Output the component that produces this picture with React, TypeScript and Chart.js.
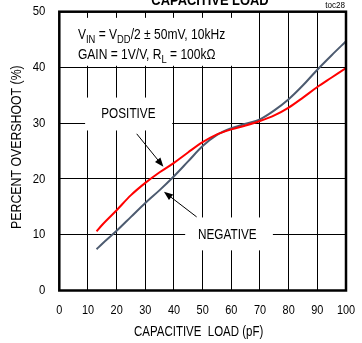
import React, { useEffect, useRef } from "react";
import { Chart, registerables } from "chart.js";

Chart.register(...registerables);

// ---- data ----
const capLoad = [13, 15, 20, 25, 30, 35, 40, 45, 50, 55, 60, 65, 70, 75, 80, 85, 90, 95, 100];
const positiveOvershoot = [10.6, 11.8, 14.4, 17.1, 19.3, 21.2, 22.9, 24.8, 26.6, 28.0, 28.9, 29.6, 30.4, 31.4, 32.8, 34.6, 36.5, 38.2, 39.9];
const negativeOvershoot = [7.4, 8.4, 10.7, 13.2, 15.7, 18.0, 20.5, 23.2, 25.9, 27.9, 29.1, 29.9, 30.7, 32.3, 34.3, 36.8, 39.6, 42.2, 44.7];

const xTickValues = [0, 10, 20, 30, 40, 50, 60, 70, 80, 90, 100];
const xTickLabels = ["0", "10", "20", "30", "40", "50", "60", "70", "80", "90", "100"];
const yTickValues = [0, 10, 20, 30, 40, 50];
const yTickLabels = ["0", "10", "20", "30", "40", "50"];

const chartTitle = "CAPACITIVE LOAD";
const chartCode = "toc28";
const xTitle = "CAPACITIVE  LOAD (pF)";
const yTitle = "PERCENT OVERSHOOT (%)";
const conditionLine1 = [
  { t: "V" }, { t: "IN", sub: true }, { t: " = V" }, { t: "DD", sub: true }, { t: "/2 \u00b1 50mV, 10kHz" },
];
const conditionLine2 = [
  { t: "GAIN = 1V/V, R" }, { t: "L", sub: true }, { t: " = 100k\u03a9" },
];
const positiveLabel = "POSITIVE";
const negativeLabel = "NEGATIVE";

const FONT = "'Liberation Sans', Arial, sans-serif";

// draw horizontally condensed text (emulates a narrow sans face)
function txt(ctx: CanvasRenderingContext2D, s: string, x: number, y: number, size: number, sx: number, align: CanvasTextAlign = "left", weight = "normal") {
  ctx.save();
  ctx.font = `${weight} ${size}px ${FONT}`;
  ctx.textAlign = align;
  ctx.translate(x, y);
  ctx.scale(sx, 1);
  ctx.fillText(s, 0, 0);
  ctx.restore();
}

function drawRich(ctx: CanvasRenderingContext2D, parts: any[], x: number, y: number, size: number, sx: number) {
  ctx.save();
  ctx.translate(x, y);
  ctx.scale(sx, 1);
  let cx = 0;
  for (const p of parts) {
    if (p.sub) {
      ctx.font = `${size * 0.78}px ${FONT}`;
      ctx.fillText(p.t, cx, size * 0.25);
    } else {
      ctx.font = `${size}px ${FONT}`;
      ctx.fillText(p.t, cx, 0);
    }
    cx += ctx.measureText(p.t).width;
  }
  ctx.restore();
}

function arrow(ctx: CanvasRenderingContext2D, x1: number, y1: number, x2: number, y2: number) {
  const ang = Math.atan2(y2 - y1, x2 - x1);
  const L = 9, W = 3.5;
  ctx.beginPath();
  ctx.moveTo(x1, y1);
  ctx.lineTo(x2 - Math.cos(ang) * L * 0.8, y2 - Math.sin(ang) * L * 0.8);
  ctx.lineWidth = 1;
  ctx.strokeStyle = "#000";
  ctx.stroke();
  ctx.beginPath();
  ctx.moveTo(x2, y2);
  ctx.lineTo(x2 - Math.cos(ang) * L - Math.sin(ang) * W, y2 - Math.sin(ang) * L + Math.cos(ang) * W);
  ctx.lineTo(x2 - Math.cos(ang) * L + Math.sin(ang) * W, y2 - Math.sin(ang) * L - Math.cos(ang) * W);
  ctx.closePath();
  ctx.fillStyle = "#000";
  ctx.fill();
}

const annotationPlugin = {
  id: "annot",
  beforeDatasetsDraw(chart: any) {
    const ctx = chart.ctx as CanvasRenderingContext2D;
    const xs = chart.scales.x, ys = chart.scales.y;
    const px = (v: number) => xs.getPixelForValue(v);
    const py = (v: number) => ys.getPixelForValue(v);
    ctx.save();
    ctx.fillStyle = "#fff";
    const boxes = [
      [0, 65, 40.3, 48.9],
      [9, 39.4, 28.7, 34.6],
      [43.9, 74.5, 7.2, 13.1],
    ];
    for (const [x0, x1, y0, y1] of boxes) {
      ctx.fillRect(px(x0), py(y1), px(x1) - px(x0), py(y0) - py(y1));
    }
    ctx.fillStyle = "#000";
    ctx.textBaseline = "alphabetic";
    ctx.textAlign = "left";
    drawRich(ctx, conditionLine1, px(6.5), py(45.1), 14, 0.86);
    drawRich(ctx, conditionLine2, px(6.5), py(41.5), 14, 0.86);
    ctx.textBaseline = "middle";
    txt(ctx, positiveLabel, px(24.1), py(31.6), 14, 0.84, "center");
    txt(ctx, negativeLabel, px(58.6), py(9.9), 14, 0.84, "center");
    ctx.restore();
  },
  afterDatasetsDraw(chart: any) {
    const ctx = chart.ctx as CanvasRenderingContext2D;
    const xs = chart.scales.x, ys = chart.scales.y;
    const px = (v: number) => xs.getPixelForValue(v);
    const py = (v: number) => ys.getPixelForValue(v);
    const a = chart.chartArea;
    ctx.save();
    arrow(ctx, px(27), py(28.1), px(36.3), py(22.2));
    arrow(ctx, px(47.9), py(13.2), px(36.5), py(17.7));
    ctx.lineWidth = 2.5;
    ctx.strokeStyle = "#000";
    ctx.strokeRect(a.left, a.top, a.right - a.left, a.bottom - a.top);
    ctx.fillStyle = "#000";
    // tick labels
    ctx.textBaseline = "middle";
    xTickValues.forEach((v, i) => txt(ctx, xTickLabels[i], px(v), a.bottom + 20, 13, 0.84, "center"));
    yTickValues.forEach((v, i) => txt(ctx, yTickLabels[i], a.left - 14, py(v), 13.5, 0.84, "right"));
    // axis titles
    txt(ctx, xTitle, (a.left + a.right) / 2 - 4, 332, 14, 0.82, "center");
    ctx.save();
    ctx.translate(17.5, (a.top + a.bottom) / 2 - 4);
    ctx.rotate(-Math.PI / 2);
    txt(ctx, yTitle, 0, 0, 14, 0.88, "center");
    ctx.restore();
    // title (cut off at top) and code
    ctx.textBaseline = "alphabetic";
    txt(ctx, chartTitle, 210, 5, 15, 0.86, "center", "bold");
    txt(ctx, chartCode, 345, 7.5, 9, 0.9, "right");
    ctx.restore();
  },
};

export default function App() {
  const ref = useRef<HTMLCanvasElement | null>(null);
  useEffect(() => {
    if (!ref.current) return;
    const chart = new Chart(ref.current, {
      type: "line",
      data: {
        datasets: [
          {
            label: "POSITIVE",
            data: capLoad.map((x, i) => ({ x, y: positiveOvershoot[i] })),
            borderColor: "#ff0000",
            borderWidth: 2,
            pointRadius: 0,
            cubicInterpolationMode: "monotone",
            fill: false,
          },
          {
            label: "NEGATIVE",
            data: capLoad.map((x, i) => ({ x, y: negativeOvershoot[i] })),
            borderColor: "#4d5b70",
            borderWidth: 2,
            pointRadius: 0,
            cubicInterpolationMode: "monotone",
            fill: false,
          },
        ],
      },
      options: {
        responsive: false,
        animation: false,
        events: [],
        layout: { padding: { top: 11.7, right: 16, left: 0, bottom: 0 } },
        plugins: { legend: { display: false }, tooltip: { enabled: false } },
        scales: {
          x: {
            type: "linear",
            min: 0,
            max: 100,
            afterBuildTicks: (s: any) => { s.ticks = xTickValues.map((v) => ({ value: v })); },
            ticks: { display: false },
            grid: { color: "#000", lineWidth: 1, drawTicks: false },
            border: { display: false },
            title: { display: false },
            afterFit: (s: any) => { s.height = 52.5; },
          },
          y: {
            type: "linear",
            min: 0,
            max: 50,
            afterBuildTicks: (s: any) => { s.ticks = yTickValues.map((v) => ({ value: v })); },
            ticks: { display: false },
            grid: { color: "#000", lineWidth: 1, drawTicks: false },
            border: { display: false },
            title: { display: false },
            afterFit: (s: any) => { s.width = 59.3; },
          },
        },
      },
      plugins: [annotationPlugin],
    } as any);
    return () => chart.destroy();
  }, []);
  return (
    <div style={{ position: "fixed", left: 0, top: 0, width: 362, height: 343, background: "#fff" }}>
      <canvas ref={ref} width={362} height={343} style={{ display: "block" }} />
    </div>
  );
}
